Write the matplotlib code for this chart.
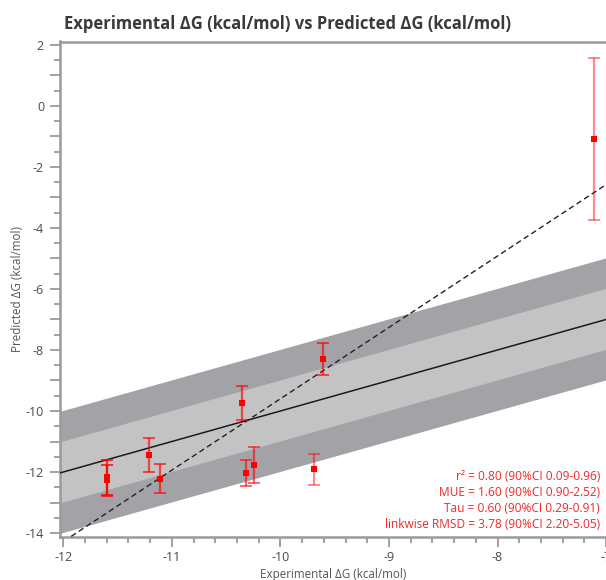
import matplotlib
matplotlib.use("Agg")
import matplotlib.pyplot as plt
import numpy as np
from matplotlib.ticker import MultipleLocator, FuncFormatter

plt.rcParams['font.family'] = ['Open Sans', 'DejaVu Sans']
plt.rcParams['axes.unicode_minus'] = False

# Data
exp_dg = [-11.60, -11.60, -11.21, -11.11, -10.35, -10.32, -10.24, -9.69, -9.61, -7.11]
pred_dg = [-12.17, -12.27, -11.43, -12.22, -9.75, -12.04, -11.77, -11.91, -8.30, -1.08]
pred_err = [0.58, 0.50, 0.56, 0.47, 0.56, 0.43, 0.60, 0.51, 0.52, 2.66]
bar_alpha = [0.75, 0.75, 0.65, 0.65, 0.65, 0.6, 0.6, 0.45, 0.65, 0.45]

fit_slope = 2.34
fit_intercept = 13.80

stats_lines = [
    "r\u00b2 = 0.80 (90%CI 0.09-0.96)",
    "MUE = 1.60 (90%CI 0.90-2.52)",
    "Tau = 0.60 (90%CI 0.29-0.91)",
    "linkwise RMSD = 3.78 (90%CI 2.20-5.05)",
]

W, H = 606, 580
fig = plt.figure(figsize=(W / 100, H / 100), dpi=100)
ax_h = (537 - 41.5)
ax = fig.add_axes([60 / W, (H - 537) / H, (W - 60) / W + 0.002, ax_h / H])

xlim = (-12.03, -6.99)
ylim = (-14.13, 2.11)
xs = np.array([xlim[0] - 1, xlim[1] + 1])

ax.fill_between(xs, xs - 2, xs + 2, color='#a3a2a7', lw=0, zorder=1)
ax.fill_between(xs, xs - 1, xs + 1, color='#c3c3c3', lw=0, zorder=2)
ax.plot(xs, xs, color='#1a1a1a', lw=1.1, zorder=3)
ax.plot(xs, fit_slope * xs + fit_intercept, color='#222222', lw=1.0,
        ls=(0, (4, 2.5)), zorder=3)

for x, y, e, a in zip(exp_dg, pred_dg, pred_err, bar_alpha):
    ax.errorbar([x], [y], yerr=[e], fmt='none', ecolor='red', elinewidth=1.6,
                capsize=4, capthick=1.4, alpha=a, zorder=4)
ax.plot(exp_dg, pred_dg, 's', color='red', ms=4, mew=0, zorder=5)

ax.set_xlim(*xlim)
ax.set_ylim(*ylim)

ax.xaxis.set_major_locator(MultipleLocator(1))
ax.xaxis.set_minor_locator(MultipleLocator(0.2))
ax.yaxis.set_major_locator(MultipleLocator(1))
ax.yaxis.set_minor_locator(MultipleLocator(0.5))
ax.yaxis.set_major_formatter(FuncFormatter(
    lambda v, p: f"{int(round(v))}" if int(round(v)) % 2 == 0 else ""))
ax.xaxis.set_major_formatter(FuncFormatter(lambda v, p: f"{int(round(v))}"))

spine_c = '#9a9a9a'
for s in ['left', 'top', 'bottom']:
    ax.spines[s].set_color(spine_c)
    ax.spines[s].set_linewidth(1.8)
ax.spines['right'].set_visible(False)

ax.tick_params(which='major', direction='out', length=7.5, width=1.3, color=spine_c,
               labelsize=9, labelcolor='#4a4a4a', pad=4)
ax.tick_params(axis='x', which='major', pad=2.5)
ax.tick_params(which='minor', direction='out', length=4, width=1.3, color=spine_c)

ax.set_xlabel("Experimental \u0394G (kcal/mol)", fontsize=8.4, color='#555555', va='center')
ax.xaxis.set_label_coords(0.5, (537 - 574.5) / ax_h)
ax.set_ylabel("Predicted \u0394G (kcal/mol)", fontsize=8.4, color='#555555', va='center')
ax.yaxis.set_label_coords((18 - 60) / 546, 0.5)

fig.text(288 / W, 1 - 24 / H, "Experimental \u0394G (kcal/mol) vs Predicted \u0394G (kcal/mol)",
         ha='center', va='center', fontsize=12, fontweight='bold', color='#3a3a3a')

for i, line in enumerate(stats_lines):
    fig.text(600 / W, 1 - (476 + 16 * i) / H, line, ha='right', va='center',
             fontsize=8.6, color='#f02828')

fig.savefig("out.png", dpi=100)
